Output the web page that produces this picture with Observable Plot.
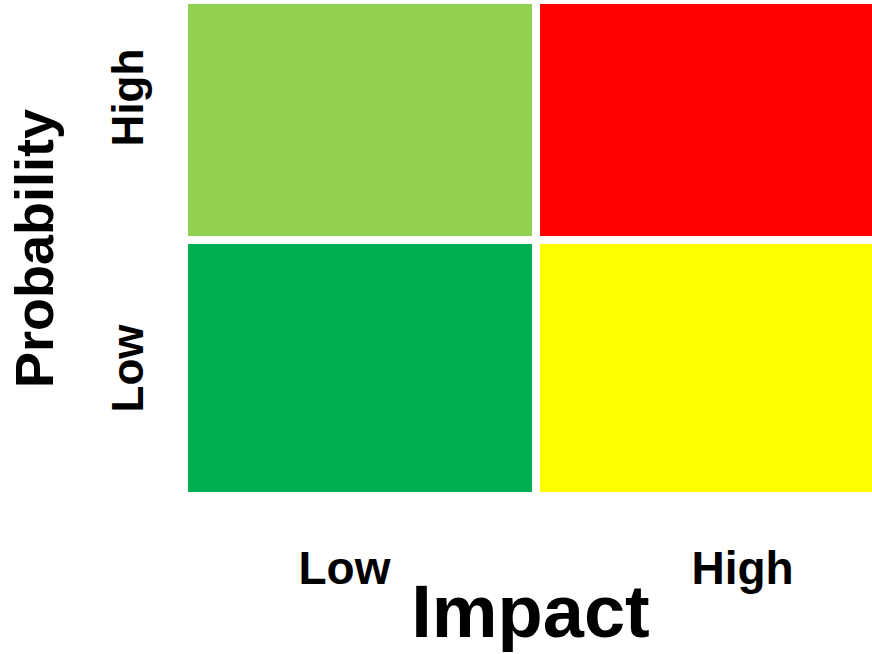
<!DOCTYPE html>
<html>
<head>
<meta charset="utf-8">
<script src="https://cdn.jsdelivr.net/npm/d3@7"></script>
<script src="https://cdn.jsdelivr.net/npm/@observablehq/plot@0.6"></script>
<style>
  html, body { margin: 0; padding: 0; background: #fff; overflow: hidden; }
</style>
</head>
<body>
<div id="chart"></div>
<script>
const impactLevels = ["Low", "High"];
const probabilityLevels = ["Low", "High"];
const cellImpact = ["Low", "High", "Low", "High"];
const cellProbability = ["High", "High", "Low", "Low"];
const cellColors = ["#92D050", "#FF0000", "#00B050", "#FFFF00"];
const xTitle = "Impact";
const yTitle = "Probability";

const cells = cellImpact.map((imp, i) => ({
  impact: imp,
  probability: cellProbability[i],
  color: cellColors[i]
}));

const font = "'Liberation Sans', Arial, Helvetica, sans-serif";

const chart = Plot.plot({
  width: 872,
  height: 654,
  marginLeft: 188,
  marginRight: 0,
  marginTop: 4,
  marginBottom: 162,
  style: { background: "#fff", fontFamily: font },
  x: { type: "band", domain: impactLevels, range: [188, 884], paddingInner: 8 / 352, paddingOuter: 0, axis: null },
  y: { type: "band", domain: probabilityLevels, range: [492, -12], paddingInner: 8 / 256, paddingOuter: 0, axis: null },
  color: { type: "identity" },
  marks: [
    Plot.cell(cells, { x: "impact", y: "probability", fill: "color", inset: 0, clip: true }),
    // x tick labels
    Plot.text([impactLevels[0]], { x: d => d, frameAnchor: "bottom", dy: 91, dx: -16, fontSize: 46, fontWeight: "bold", fontFamily: font, fill: "#000" }),
    Plot.text([impactLevels[1]], { x: d => d, frameAnchor: "bottom", dy: 91, dx: 30, fontSize: 46, fontWeight: "bold", fontFamily: font, fill: "#000" }),
    // y tick labels
    Plot.text([probabilityLevels[1]], { y: d => d, frameAnchor: "left", textAnchor: "middle", dx: -60, dy: -15, rotate: -90, fontSize: 44, fontWeight: "bold", fontFamily: font, fill: "#000" }),
    Plot.text([probabilityLevels[0]], { y: d => d, frameAnchor: "left", textAnchor: "middle", dx: -60, dy: 0, rotate: -90, fontSize: 44, fontWeight: "bold", fontFamily: font, fill: "#000" }),
    // axis titles
    Plot.text([xTitle], { frameAnchor: "bottom", dy: 144, fontSize: 74, fontWeight: "bold", fontFamily: font, fill: "#000" }),
    Plot.text([yTitle], { frameAnchor: "left", textAnchor: "middle", dx: -153, rotate: -90, fontSize: 54, fontWeight: "bold", fontFamily: font, fill: "#000" })
  ]
});

document.getElementById("chart").appendChild(chart);
</script>
</body>
</html>
